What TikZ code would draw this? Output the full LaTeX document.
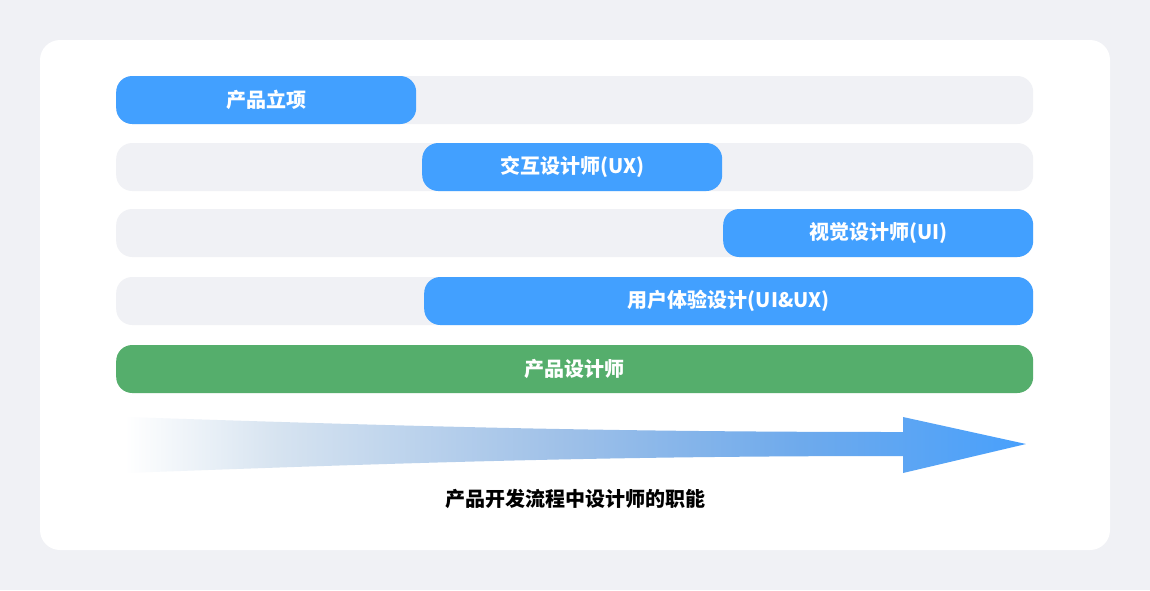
\documentclass[tikz,border=0pt]{standalone}
\usepackage{fontspec}
\setmainfont{Noto Sans CJK SC}
\definecolor{pagegray}{HTML}{F0F1F5}
\definecolor{trackgray}{HTML}{F0F1F5}
\definecolor{barblue}{HTML}{42A0FF}
\definecolor{bargreen}{HTML}{55AE6C}
\definecolor{fadeone}{HTML}{D6E3F0}
\definecolor{fadetwo}{HTML}{9EC0E8}
\definecolor{fadethree}{HTML}{6EAAEC}
\definecolor{arrowblue}{HTML}{48A0FC}
\pgfdeclarehorizontalshading{arrowfade}{100bp}{color(0bp)=(white);
    color(25bp)=(white); color(33.5bp)=(fadeone); color(49.5bp)=(fadetwo);
    color(62.5bp)=(fadethree); color(75bp)=(arrowblue); color(100bp)=(arrowblue)}

\begin{document}
\begin{tikzpicture}[x = 1pt, y = -1pt, % pixel grid, y downwards
                bar/.style = {rounded corners = 16pt, minimum height = 48pt,
                    inner sep = 0pt, anchor = west, text = white,
                    font = \fontsize{20}{20}\selectfont\bfseries},
                track/.style = {bar, fill = trackgray, minimum width = 917pt},
                bluebar/.style = {bar, fill = barblue},
                greenbar/.style = {bar, fill = bargreen}
            ]

            % page and card
            \fill[pagegray] (0,0) rectangle (1150,590);
            \fill[white, rounded corners = 20pt] (40,40) rectangle (1110,550);

            % grey tracks
            \node[track] (t1) at (116,100) {};
            \node[track] (t2) at (116,167) {};
            \node[track] (t3) at (116,233) {};
            \node[track] (t4) at (116,301) {};

            % role bars
            \node[bluebar, minimum width = 300pt] (lixiang) at (116,100) {产品立项};
            \node[bluebar, minimum width = 300pt] (ux) at (422,167) {交互设计师(UX)};
            \node[bluebar, minimum width = 310pt] (ui) at (723,233) {视觉设计师(UI)};
            \node[bluebar, minimum width = 609pt] (uiux) at (424,301) {用户体验设计(UI\&UX)};
            \node[greenbar, minimum width = 917pt] (pd) at (116,369) {产品设计师};

            % process arrow
            \shade[shading = arrowfade]
                (125,417) .. controls (400,426) and (600,432) .. (903,432)
                -- (903,417) -- (1026,444) -- (903,473) -- (903,456)
                .. controls (600,456) and (400,463) .. (125,473) -- cycle;

            \node[font = \fontsize{20}{20}\selectfont\bfseries] (caption) at (575,499)
                {产品开发流程中设计师的职能};
        \end{tikzpicture}
\end{document}
